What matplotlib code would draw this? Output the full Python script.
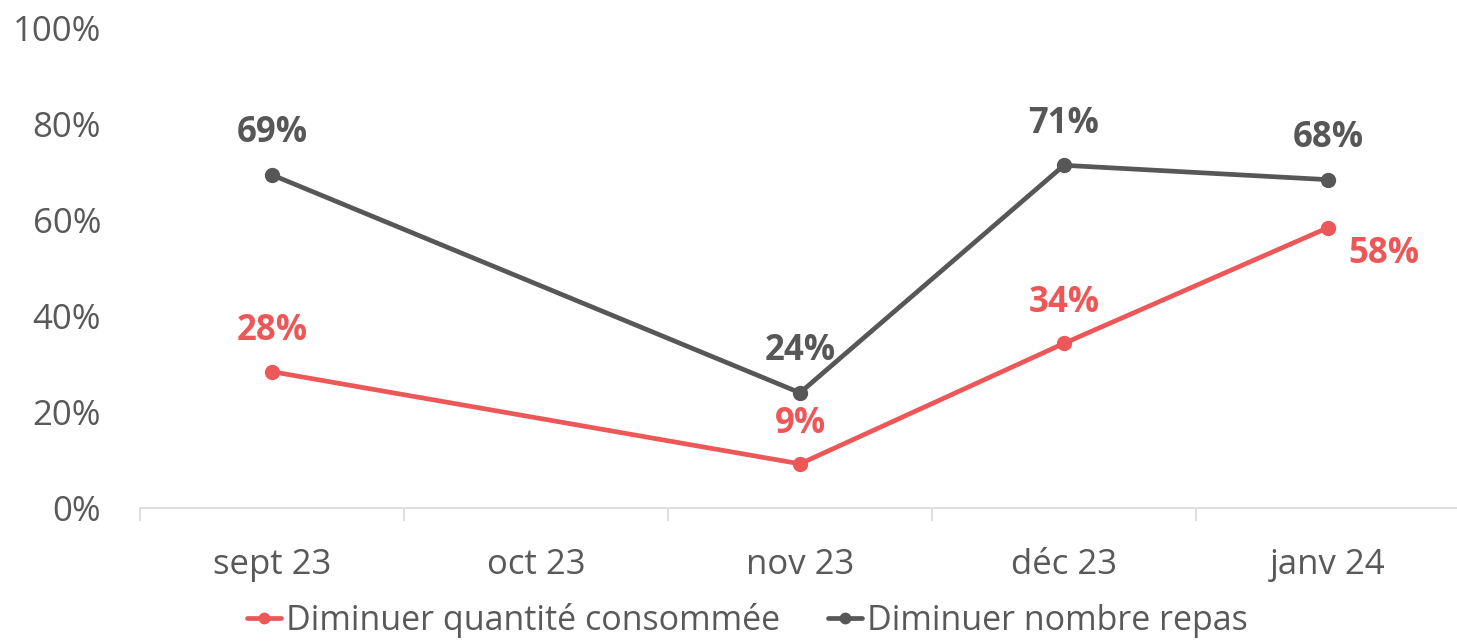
import numpy as np
import matplotlib
matplotlib.use("Agg")
import matplotlib.pyplot as plt

plt.rcParams['font.family'] = ['Open Sans', 'DejaVu Sans']

categories = ["sept 23", "oct 23", "nov 23", "déc 23", "janv 24"]
quantite = [28.4, np.nan, 9.2, 34.3, 58.4]
repas = [69.4, np.nan, 24.0, 71.4, 68.4]
series_names = ["Diminuer quantité consommée", "Diminuer nombre repas"]
yticks = [0, 20, 40, 60, 80, 100]

red = "#EE5757"
dark = "#575757"
txt = "#595959"

fig = plt.figure(figsize=(14.57, 6.42), dpi=100)
ax = fig.add_axes([140/1457, (642-508)/642, 1320/1457, 480/642])

x = np.arange(len(categories))

def plot_series(vals, color, label):
    v = np.array(vals, dtype=float)
    m = ~np.isnan(v)
    ax.plot(x[m], v[m], color=color, lw=3.4, marker="o", ms=10,
            solid_capstyle="round", label=label, zorder=3)
    return x[m], v[m]

xq, vq = plot_series(quantite, red, series_names[0])
xr, vr = plot_series(repas, dark, series_names[1])

lab_fs = 25
for xi, vi in zip(xr, vr):
    ax.annotate(f"{vi:.0f}%", (xi, vi), xytext=(0, 30), textcoords="offset points",
                ha="center", va="center", fontsize=lab_fs, fontweight="bold", color=dark)
for i, (xi, vi) in enumerate(zip(xq, vq)):
    if i == len(xq) - 1:
        off = (40, -19)
    else:
        off = (0, 29)
    ax.annotate(f"{vi:.0f}%", (xi, vi), xytext=off, textcoords="offset points",
                ha="center", va="center", fontsize=lab_fs, fontweight="bold", color=red)

ax.set_xlim(-0.5, len(categories) - 0.5)
ax.set_ylim(0, 100)
ax.set_yticks(yticks)
ax.set_yticklabels([f"{t}%" for t in yticks])
ax.set_xticks(x)
ax.set_xticklabels(categories)
ax.set_xticks(np.arange(-0.5, len(categories), 1.0), minor=True)
ax.tick_params(axis="x", which="major", length=0, pad=29, labelsize=25, labelcolor=txt)
ax.tick_params(axis="x", which="minor", length=9.5, width=1.2, color="#D9D9D9")
ax.tick_params(axis="y", length=0, pad=28, labelsize=25, labelcolor=txt)
for s in ["top", "right", "left"]:
    ax.spines[s].set_visible(False)
ax.spines["bottom"].set_color("#D9D9D9")
ax.spines["bottom"].set_linewidth(1.2)
ax.spines["bottom"].set_zorder(1)

leg = fig.legend(loc="lower center", bbox_to_anchor=(0.513, -0.042), ncol=2, frameon=False,
                 fontsize=24.5, handlelength=1.0, handletextpad=0.15, columnspacing=1.4,
                 labelcolor=txt, markerscale=0.75)

fig.savefig("out.png", dpi=100)
